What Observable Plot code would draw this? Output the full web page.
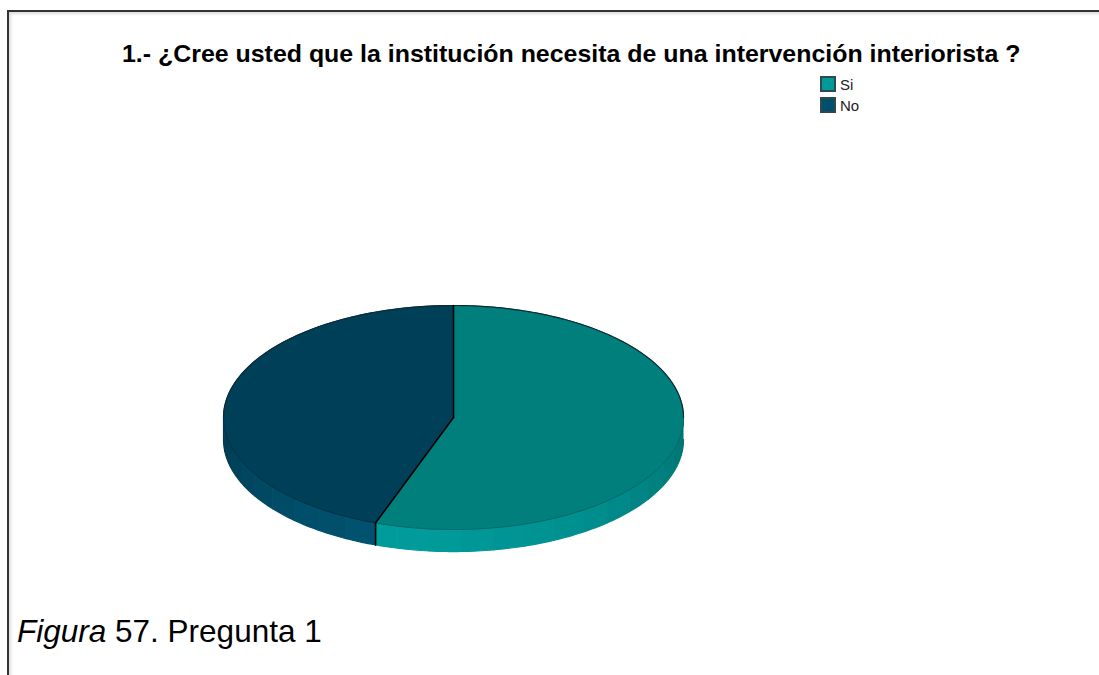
<!DOCTYPE html>
<html><head><meta charset="utf-8">
<script src="https://cdn.jsdelivr.net/npm/d3@7"></script>
<script src="https://cdn.jsdelivr.net/npm/@observablehq/plot@0.6"></script>
<style>
html,body{margin:0;padding:0;background:#fff;overflow:hidden}
#wrap{position:relative;width:1099px;height:675px;font-family:"Liberation Sans",Arial,sans-serif;color:#000}
#frame{position:absolute;left:7px;top:10px;width:1092px;height:665px;border-left:2px solid #333;border-top:2px solid #333;box-sizing:border-box;box-shadow:inset 3px 3px 3px -1px #ddd}
#chart{position:absolute;left:0;top:0}
#title{position:absolute;left:122px;top:41px;font-weight:bold;font-size:24px;line-height:26px;white-space:nowrap;transform:scaleX(1.038);transform-origin:left center}
#caption{position:absolute;left:17px;top:612px;font-size:31.5px;line-height:38px;white-space:nowrap}
.lg{position:absolute;left:820px;width:12px;height:12px;border:2px solid #2e4a50}
.lt{position:absolute;left:840px;font-size:15px;line-height:16px;color:#222}
</style></head>
<body><div id="wrap">
<div id="frame"></div>
<div id="chart"></div>
<div id="title">1.- ¿Cree usted que la institución necesita de una intervención interiorista ?</div>
<div id="caption"><i>Figura</i> 57. Pregunta 1</div>
<div id="legend"></div>
</div>
<script>
const categories = ["Si", "No"];
const values = [55.5, 44.5];
const topColors = ["#007f7d", "#003f58"];
const swatchColors = ["#009a99", "#00506b"];
const rimNear = ["#009c9b", "#00526e"];
const rimFar = ["#00716f", "#00384d"];
const edgeColors = ["#006462", "#00303f"];
const rimDepth = 0.197;

const total = d3.sum(values);
const starts = d3.cumsum([0, ...values]).map(v => v / total * 360);
const pt = (deg, off = 0) => {
  const a = deg * Math.PI / 180;
  return {x: Math.sin(a), y: Math.cos(a) - off};
};

const tops = [], rims = [], dividers = [], edges = [];
categories.forEach((c, i) => {
  const a0 = starts[i], a1 = starts[i + 1];
  const arc = d3.range(a0, a1, 1).concat(a1);
  tops.push({slice: c, fill: topColors[i], pts: [{x: 0, y: 0}, ...arc.map(d => pt(d))]});
  const lo = Math.max(a0, 90), hi = Math.min(a1, 270);
  const bands = d3.range(lo, hi, 8);
  const nearAngle = i === 0 ? hi : lo;
  bands.forEach(b => {
    const e = Math.min(b + 8, hi);
    const t = Math.pow(Math.abs((b + e) / 2 - nearAngle) / (hi - lo), 1.6);
    const col = d3.interpolateRgb(rimNear[i], rimFar[i])(t);
    const steps = d3.range(b, e, 1).concat(e);
    rims.push({fill: col, pts: [...steps.map(d => pt(d)), ...steps.slice().reverse().map(d => pt(d, rimDepth))]});
  });
  const rimSteps = d3.range(lo, hi, 1).concat(hi);
  edges.push({fill: edgeColors[i], pts: rimSteps.map(d => pt(d))});
  dividers.push([{x: 0, y: 0}, pt(a0)]);
});
const boundary = starts[1];
dividers.push([pt(boundary), pt(boundary, rimDepth)]);

const flat = (arr, key) => arr.flatMap((d, k) => d.pts.map(p => ({...p, k: key + k, color: d.fill})));
const rimData = flat(rims, "r");
const topData = flat(tops, "t");
const edgeData = flat(edges, "e");
const dividerData = dividers.flatMap((d, k) => d.map(p => ({...p, k})));
const upper = d3.range(-90, 90.5, 1).map(d => pt(d));

const plot = Plot.plot({
  width: 1099, height: 675,
  margin: 0,
  axis: null,
  x: {domain: [-1, 1], range: [223, 683]},
  y: {domain: [-1, 1], range: [529, 305]},
  color: {type: "identity"},
  style: {background: "transparent"},
  marks: [
    Plot.line(rimData, {x: "x", y: "y", z: "k", fill: "color", stroke: "color", strokeWidth: 1.2}),
    Plot.line(topData, {x: "x", y: "y", z: "k", fill: "color", stroke: "color", strokeWidth: 1}),
    Plot.line(edgeData, {x: "x", y: "y", z: "k", stroke: "color", strokeWidth: 0.8}),
    Plot.line(upper, {x: "x", y: "y", stroke: "#0c2a33", strokeWidth: 1.2}),
    Plot.line(dividerData, {x: "x", y: "y", z: "k", stroke: "#000", strokeWidth: 1.6})
  ]
});
document.getElementById("chart").appendChild(plot);

const legend = document.getElementById("legend");
categories.forEach((c, i) => {
  const s = document.createElement("div");
  s.className = "lg"; s.style.top = (76 + i * 21) + "px"; s.style.background = swatchColors[i];
  const t = document.createElement("div");
  t.className = "lt"; t.style.top = (77 + i * 21) + "px"; t.textContent = c;
  legend.append(s, t);
});
</script>
</body></html>
